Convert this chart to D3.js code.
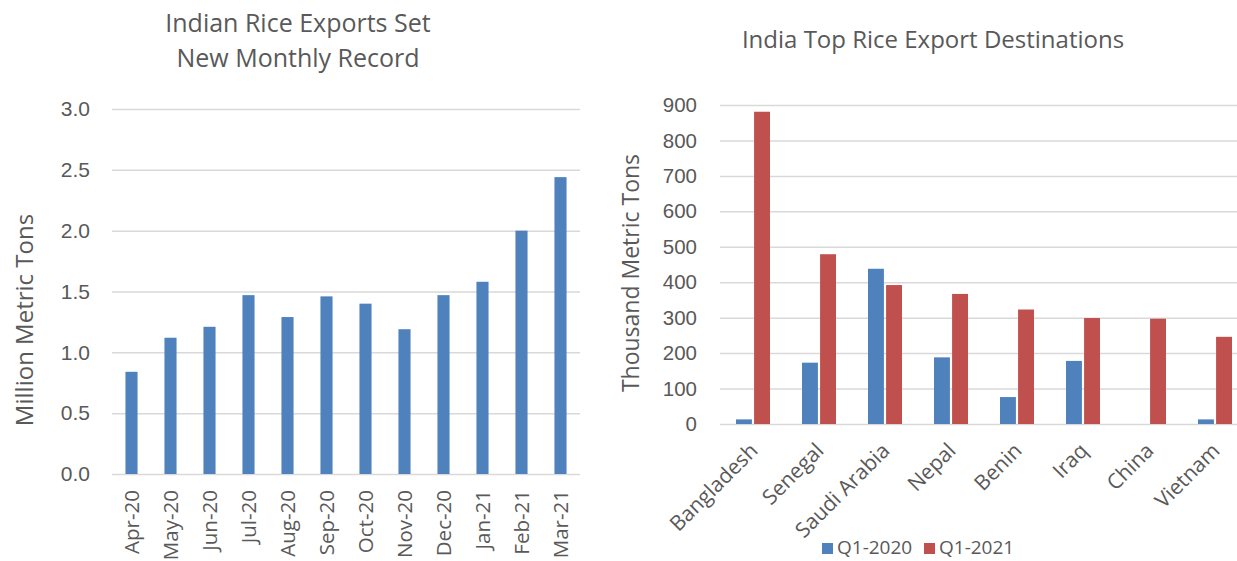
<!DOCTYPE html>
<html lang="en">
  <head>
    <meta charset="UTF-8" />
    <title>India Rice Exports</title>
    <script src="https://d3js.org/d3.v7.min.js"></script>
    <style>
      body { margin: 0; background: #fff; }
      svg { display: block; font-family: "Open Sans", sans-serif; }
      text { fill: #595959; }
      .grid line { stroke: #d9d9d9; stroke-width: 1.5px; }
    </style>
  </head>
  <body>
    <svg width="1237" height="561"></svg>
    <script>
      // left chart: monthly exports, million metric tons
      var months = ["Apr-20", "May-20", "Jun-20", "Jul-20", "Aug-20", "Sep-20",
                    "Oct-20", "Nov-20", "Dec-20", "Jan-21", "Feb-21", "Mar-21"];
      var monthly = [0.84, 1.12, 1.21, 1.47, 1.29, 1.46, 1.40, 1.19, 1.47, 1.58, 2.00, 2.44];
      var leftTicks = [0, 0.5, 1.0, 1.5, 2.0, 2.5, 3.0];

      // right chart: top destinations, thousand metric tons
      var countries = ["Bangladesh", "Senegal", "Saudi Arabia", "Nepal", "Benin", "Iraq", "China", "Vietnam"];
      var series = ["Q1-2020", "Q1-2021"];
      var q1_2020 = [13, 173, 438, 188, 76, 178, 0, 13];
      var q1_2021 = [881, 479, 392, 367, 323, 299, 297, 246];
      var rightTicks = [0, 100, 200, 300, 400, 500, 600, 700, 800, 900];

      var blue = "#4f81bd", red = "#c0504d";
      var svg = d3.select("svg");

      // ---------- left chart ----------
      var x = d3.scaleBand().domain(months).range([112, 580]).padding(0);
      var y = d3.scaleLinear().domain([0, 3]).range([474, 109]);

      svg.append("g")
        .attr("class", "grid")
        .attr("transform", "translate(112,0)")
        .call(d3.axisLeft(y).tickValues(leftTicks).tickFormat(d3.format(".1f"))
          .tickSize(-(580 - 112)).tickPadding(22))
        .call(function (g) {
          g.select(".domain").remove();
          g.selectAll("text").style("font-size", "21px").style("fill", "#595959");
        });

      var bw = x.bandwidth() * 0.31;
      svg.append("g")
        .selectAll("rect")
        .data(monthly)
        .enter()
        .append("rect")
        .attr("x", function (d, i) { return x(months[i]) + x.bandwidth() / 2 - bw / 2; })
        .attr("y", function (d) { return y(d); })
        .attr("width", bw)
        .attr("height", function (d) { return y(0) - y(d); })
        .style("fill", blue);

      svg.append("g")
        .selectAll("text")
        .data(months)
        .enter()
        .append("text")
        .attr("transform", function (d) {
          return "translate(" + (x(d) + x.bandwidth() / 2 + 7) + ",490) rotate(-90)";
        })
        .style("text-anchor", "end")
        .style("font-size", "20.5px")
        .text(function (d) { return d; });

      svg.append("text")
        .attr("transform", "translate(33,320) rotate(-90)")
        .style("text-anchor", "middle")
        .style("font-size", "24px")
        .text("Million Metric Tons");

      svg.append("text")
        .attr("x", 298).attr("y", 32)
        .style("text-anchor", "middle")
        .style("font-size", "25px")
        .text("Indian Rice Exports Set");
      svg.append("text")
        .attr("x", 298).attr("y", 67)
        .style("text-anchor", "middle")
        .style("font-size", "25px")
        .text("New Monthly Record");

      // ---------- right chart ----------
      var x0 = d3.scaleBand().domain(countries).range([720, 1248]).padding(0);
      var gw = x0.bandwidth() * 0.515;
      var x1 = d3.scaleBand().domain(series).range([-gw / 2, gw / 2]).paddingInner(0.12);
      var y2 = d3.scaleLinear().domain([0, 900]).range([424, 105]);

      svg.append("g")
        .attr("class", "grid")
        .attr("transform", "translate(720,0)")
        .call(d3.axisLeft(y2).tickValues(rightTicks).tickFormat(d3.format("d"))
          .tickSize(-(1248 - 720)).tickPadding(23))
        .call(function (g) {
          g.select(".domain").remove();
          g.selectAll("text").style("font-size", "20.5px").style("fill", "#595959");
        });

      var rows = countries.map(function (c, i) {
        return { country: c, values: [q1_2020[i], q1_2021[i]] };
      });
      var colors = d3.scaleOrdinal().domain(series).range([blue, red]);

      svg.append("g")
        .selectAll("g")
        .data(rows)
        .enter()
        .append("g")
        .attr("transform", function (d) {
          return "translate(" + (x0(d.country) + x0.bandwidth() / 2) + ",0)";
        })
        .selectAll("rect")
        .data(function (d) {
          return d.values.map(function (v, j) { return { key: series[j], value: v }; });
        })
        .enter()
        .append("rect")
        .attr("x", function (d) { return x1(d.key); })
        .attr("y", function (d) { return y2(d.value); })
        .attr("width", x1.bandwidth())
        .attr("height", function (d) { return y2(0) - y2(d.value); })
        .style("fill", function (d) { return colors(d.key); });

      svg.append("g")
        .selectAll("text")
        .data(countries)
        .enter()
        .append("text")
        .attr("transform", function (d) {
          return "translate(" + (x0(d) + x0.bandwidth() / 2 + 6) + ",452) rotate(-45)";
        })
        .style("text-anchor", "end")
        .style("font-size", "21px")
        .text(function (d) { return d; });

      svg.append("text")
        .attr("transform", "translate(639,273) rotate(-90)")
        .style("text-anchor", "middle")
        .style("font-size", "23px")
        .text("Thousand Metric Tons");

      svg.append("text")
        .attr("x", 933).attr("y", 48)
        .style("text-anchor", "middle")
        .style("font-size", "24px")
        .text("India Top Rice Export Destinations");

      // legend
      var legend = svg.append("g")
        .selectAll("g")
        .data(series)
        .enter()
        .append("g")
        .attr("transform", function (d, i) { return "translate(" + (822 + i * 102) + ",543)"; });
      legend.append("rect")
        .attr("width", 11).attr("height", 11)
        .style("fill", function (d) { return colors(d); });
      legend.append("text")
        .attr("x", 15).attr("y", 11)
        .style("font-size", "19px")
        .text(function (d) { return d; });
    </script>
  </body>
</html>
